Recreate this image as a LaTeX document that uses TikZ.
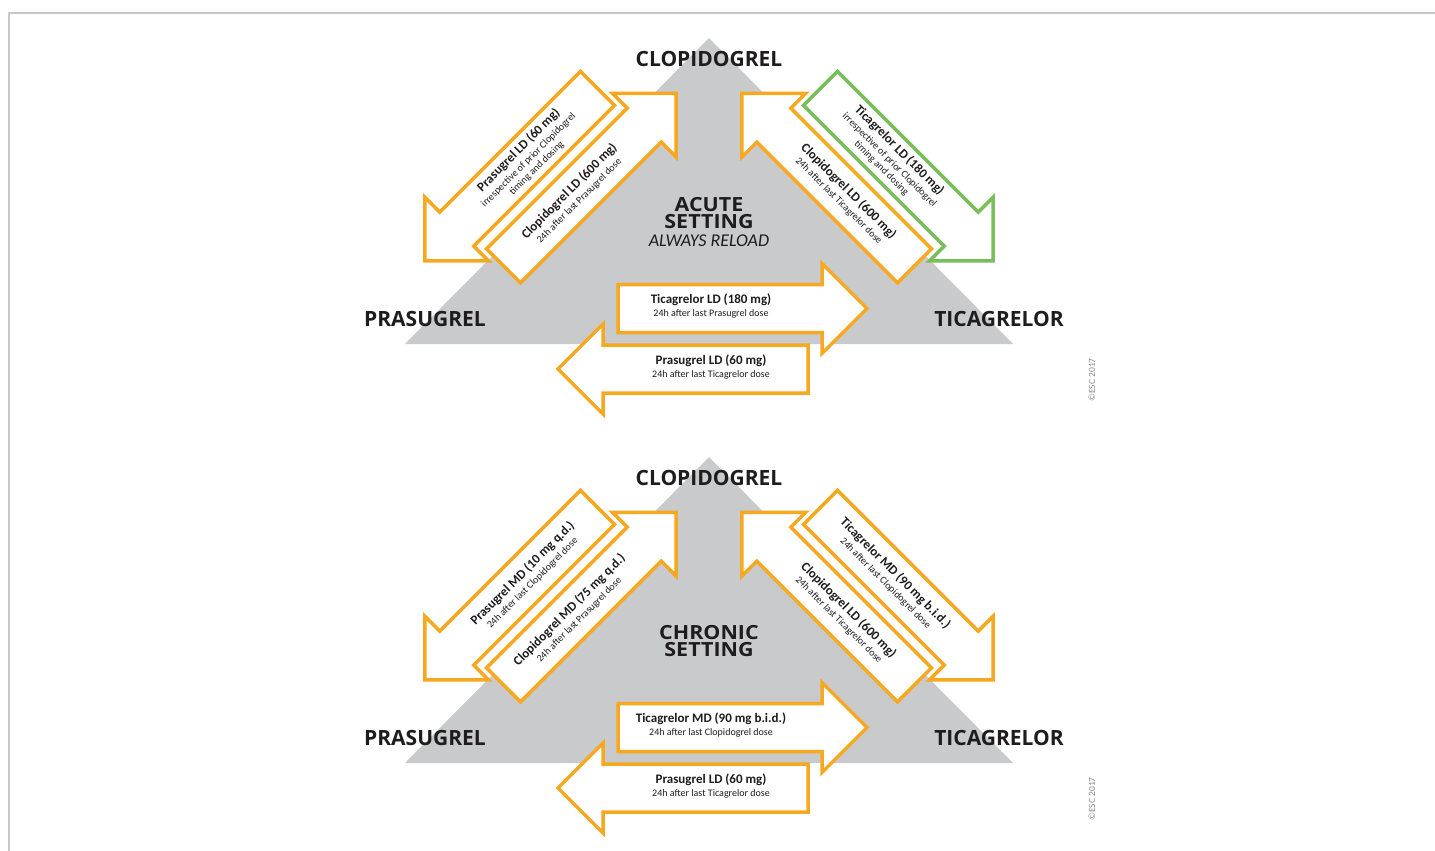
\documentclass[tikz,border=0pt]{standalone}
\usepackage{fontspec}
\setmainfont{Carlito}
\newfontfamily\labfont{Open Sans}
\newfontfamily\setfont{Open Sans}[FakeStretch=1.1]
\definecolor{orng}{RGB}{246,168,33}
\definecolor{grn}{RGB}{122,190,92}
\definecolor{tri}{RGB}{201,202,204}
\definecolor{ink}{RGB}{30,28,28}
\definecolor{frm}{RGB}{200,200,200}
\tikzset{
  arrowbox/.style={fill=white, line width=3.5pt, line join=miter},
  drug/.style={font=\labfont\bfseries\fontsize{21}{21}\selectfont, text=ink, inner sep=0},
  setting/.style={font=\setfont\bfseries\fontsize{19.5}{17}\selectfont, text=ink, align=center, inner sep=0},
  atext/.style={align=center, text=ink, inner sep=0, font=\fontsize{10}{11.5}\selectfont},
  frame/.style={draw=frm, line width=1.2pt},
  copy/.style={rotate=90, font=\fontsize{9.5}{9.5}\selectfont, text=black!45, inner sep=0}
}
\newcommand\mainline[1]{{\bfseries\fontsize{13}{14}\selectfont #1}\\[1.5pt]}
\newcommand\blockarrow[5]{%
  \begin{scope}[shift={#2}, rotate=#3]
    \draw[arrowbox, draw=#5] (0,-24) -- (#4-45,-24) -- (#4-45,-45) -- (#4,0) -- (#4-45,45) -- (#4-45,24) -- (0,24) -- cycle;
    \coordinate (#1) at ({(#4-45)/2},0);
  \end{scope}}
\begin{document}
\begin{tikzpicture}[x=1pt,y=-1pt]
\useasboundingbox (0,0) rectangle (1435,851);
\draw[frame] (9,851) -- (9,13) -- (1435,13);

% ---------- top panel ----------
\fill[tri] (405,344) -- (709,38) -- (1013,344) -- cycle;
\node[drug] (c1) at (709,59) {CLOPIDOGREL};
\node[drug] (p1) at (425,319) {PRASUGREL};
\node[drug] (t1) at (999,319) {TICAGRELOR};
\node[setting] (s1) at (709,213) {ACUTE\\SETTING};
\node[font=\itshape\fontsize{18}{18}\selectfont, text=ink, inner sep=0] (r1) at (709,241) {ALWAYS RELOAD};

\blockarrow{pa1}{(597.5,88.4)}{225}{244}{orng}
\blockarrow{ca1}{(503.5,265.9)}{45}{244}{orng}
\blockarrow{cb1}{(914.5,265.9)}{135}{244}{orng}
\blockarrow{ta1}{(820.5,88.4)}{-45}{244}{grn}
\blockarrow{th1}{(618,308.5)}{0}{249}{orng}
\blockarrow{ph1}{(808,369)}{180}{250}{orng}

\node[atext, rotate=45] (tpa1) at (pa1) {\mainline{Prasugrel LD (60 mg)}irrespective of prior Clopidogrel\\timing and dosing};
\node[atext, rotate=45] (tca1) at (ca1) {\mainline{Clopidogrel LD (600 mg)}24h after last Prasugrel dose};
\node[atext, rotate=-45] (tcb1) at (cb1) {\mainline{Clopidogrel LD (600 mg)}24h after last Ticagrelor dose};
\node[atext, rotate=-45] (tta1) at (ta1) {\mainline{Ticagrelor LD (180 mg)}irrespective of prior Clopidogrel\\timing and dosing};
\node[atext] (tth1) at (711,306) {\mainline{Ticagrelor LD (180 mg)}24h after last Prasugrel dose};
\node[atext] (tph1) at (711,367) {\mainline{Prasugrel LD (60 mg)}24h after last Ticagrelor dose};
\node[copy] (e1) at (1092,380) {©ESC 2017};

% ---------- bottom panel ----------
\begin{scope}[shift={(0,419)}]
\fill[tri] (405,344) -- (709,38) -- (1013,344) -- cycle;
\node[drug] (c2) at (709,59) {CLOPIDOGREL};
\node[drug] (p2) at (425,319) {PRASUGREL};
\node[drug] (t2) at (999,319) {TICAGRELOR};
\node[setting] (s2) at (709,222) {CHRONIC\\SETTING};

\blockarrow{pa2}{(597.5,88.4)}{225}{244}{orng}
\blockarrow{ca2}{(503.5,265.9)}{45}{244}{orng}
\blockarrow{cb2}{(914.5,265.9)}{135}{244}{orng}
\blockarrow{ta2}{(820.5,88.4)}{-45}{244}{orng}
\blockarrow{th2}{(618,308.5)}{0}{249}{orng}
\blockarrow{ph2}{(808,369)}{180}{250}{orng}

\node[atext, rotate=45] (tpa2) at (pa2) {\mainline{Prasugrel MD (10 mg q.d.)}24h after last Clopidogrel dose};
\node[atext, rotate=45] (tca2) at (ca2) {\mainline{Clopidogrel MD (75 mg q.d.)}24h after last Prasugrel dose};
\node[atext, rotate=-45] (tcb2) at (cb2) {\mainline{Clopidogrel LD (600 mg)}24h after last Ticagrelor dose};
\node[atext, rotate=-45] (tta2) at (ta2) {\mainline{Ticagrelor MD (90 mg b.i.d.)}24h after last Clopidogrel dose};
\node[atext] (tth2) at (711,306) {\mainline{Ticagrelor MD (90 mg b.i.d.)}24h after last Clopidogrel dose};
\node[atext] (tph2) at (711,367) {\mainline{Prasugrel LD (60 mg)}24h after last Ticagrelor dose};
\node[copy] (e2) at (1092,380) {©ESC 2017};
\end{scope}
\end{tikzpicture}
\end{document}
